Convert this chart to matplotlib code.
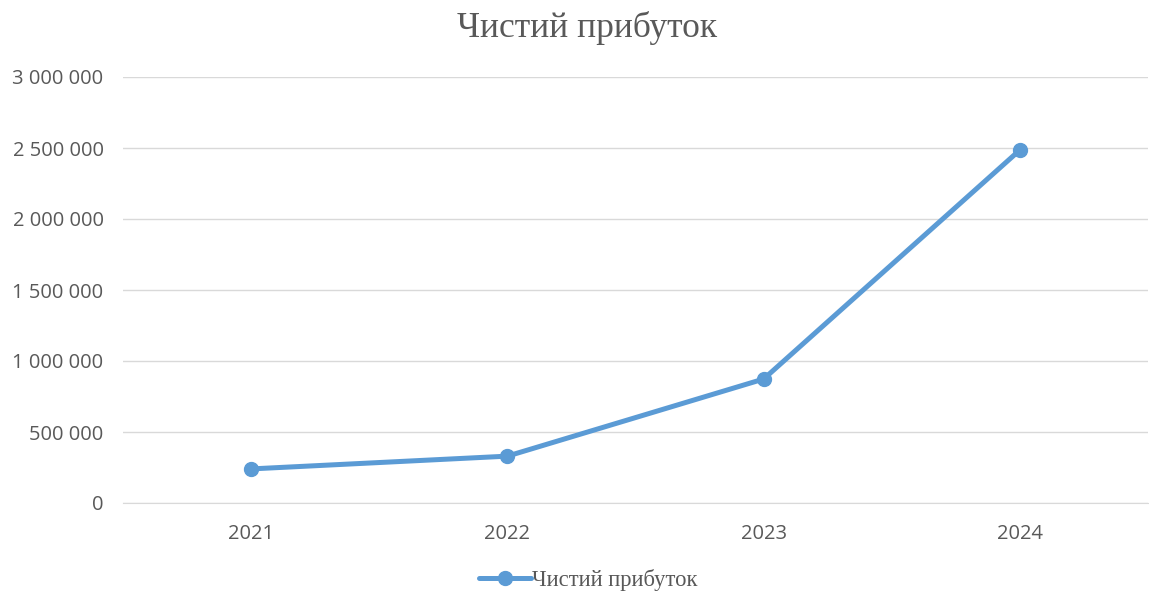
import matplotlib
matplotlib.use("Agg")
import matplotlib.pyplot as plt
from matplotlib.ticker import FuncFormatter

years = ["2021", "2022", "2023", "2024"]
profit = [240000, 330000, 873000, 2486000]
series_name = "Чистий прибуток"
title = "Чистий прибуток"
yticks = [0, 500000, 1000000, 1500000, 2000000, 2500000, 3000000]

fig = plt.figure(figsize=(11.49, 5.95), dpi=100)
ax = fig.add_axes([123/1149, (595-503)/595, (1148-123)/1149, (503-77)/595])

x = list(range(len(years)))
ax.plot(x, profit, color="#5B9BD5", lw=3.6, marker="o", ms=10,
        label=series_name, solid_capstyle="round", zorder=3)

ax.set_xlim(-0.5, len(years) - 0.5)
ax.set_ylim(0, 3000000)
ax.set_yticks(yticks)
ax.yaxis.set_major_formatter(FuncFormatter(lambda v, p: f"{int(v):,}".replace(",", " ")))
ax.set_xticks(x)
ax.set_xticklabels(years)

ax.grid(axis="y", color="#D9D9D9", lw=1)
ax.set_axisbelow(True)
for s in ["top", "right", "left"]:
    ax.spines[s].set_visible(False)
ax.spines["bottom"].set_color("#D9D9D9")
ax.tick_params(axis="both", length=0, labelcolor="#595959", labelsize=14.5)
ax.tick_params(axis="y", pad=14)
ax.tick_params(axis="x", pad=15)
for lab in ax.get_xticklabels() + ax.get_yticklabels():
    lab.set_fontfamily("Open Sans")

fig.text(587/1149, 1 - 28/595, title, ha="center", va="center",
         fontsize=25.5, family="Liberation Serif", color="#595959")

leg = fig.legend(loc="center", bbox_to_anchor=(588/1149, 1 - 580/595), frameon=False,
                 prop={"family": "Liberation Serif", "size": 16.3}, handlelength=2.3,
                 handletextpad=0.05, labelcolor="#595959")

fig.savefig("out.png", dpi=100)
